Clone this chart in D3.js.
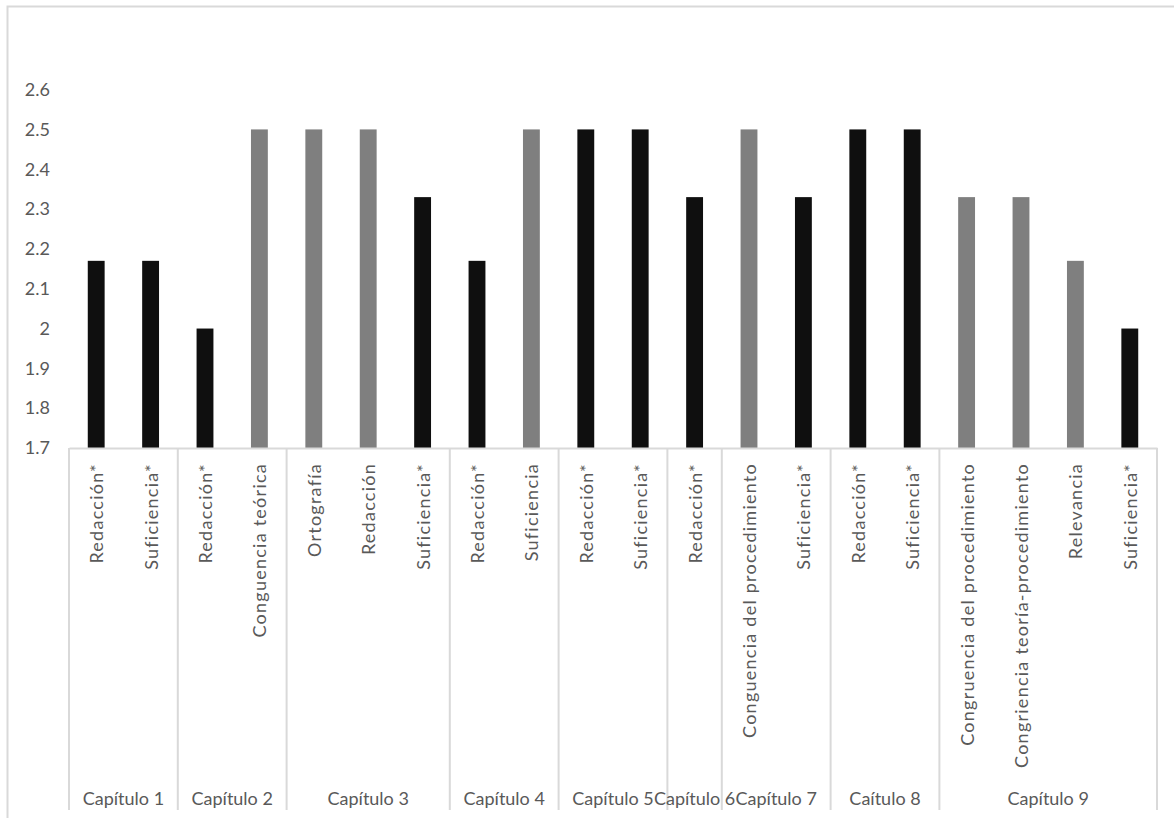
<!DOCTYPE html>
<html>
<head>
<meta charset="utf-8">
<script src="https://cdn.jsdelivr.net/npm/d3@7"></script>
<style>
  html, body { margin: 0; padding: 0; background: #fff; }
  svg { display: block; }
  text { font-family: Lato, "Open Sans", sans-serif; fill: #595959; }
</style>
</head>
<body>
<svg id="chart" width="1174" height="818"></svg>
<script>
// ---- Data ----
const categories = [
  "Redacción*", "Suficiencia*",
  "Redacción*", "Conguencia teórica",
  "Ortografía", "Redacción", "Suficiencia*",
  "Redacción*", "Suficiencia",
  "Redacción*", "Suficiencia*",
  "Redacción*",
  "Conguencia del procedimiento", "Suficiencia*",
  "Redacción*", "Suficiencia*",
  "Congruencia del procedimiento", "Congriencia teoría-procedimiento", "Relevancia", "Suficiencia*"
];
const values = [
  2.17, 2.17,
  2.00, 2.50,
  2.50, 2.50, 2.33,
  2.17, 2.50,
  2.50, 2.50,
  2.33,
  2.50, 2.33,
  2.50, 2.50,
  2.33, 2.33, 2.17, 2.00
];
// 1 = black bar (marked *), 0 = gray bar
const marked = [
  1, 1,
  1, 0,
  0, 0, 1,
  1, 0,
  1, 1,
  1,
  0, 1,
  1, 1,
  0, 0, 0, 1
];
const groups = ["Capítulo 1", "Capítulo 2", "Capítulo 3", "Capítulo 4", "Capítulo 5", "Capítulo 6", "Capítulo 7", "Caítulo 8", "Capítulo 9"];
const groupSizes = [2, 2, 3, 2, 2, 1, 2, 2, 4];
const yTicks = [1.7, 1.8, 1.9, 2.0, 2.1, 2.2, 2.3, 2.4, 2.5, 2.6];

// ---- Layout ----
const svg = d3.select("#chart");
const plotLeft = 69, plotRight = 1157, plotTop = 89.6, plotBottom = 448;
const sepBottom = 810;

// outer chart frame
svg.append("rect")
  .attr("x", 7.5).attr("y", 6.5)
  .attr("width", 1200).attr("height", 900)
  .attr("fill", "none").attr("stroke", "#d9d9d9").attr("stroke-width", 2);

const idx = d3.range(categories.length);
const x = d3.scaleBand().domain(idx).range([plotLeft, plotRight]).paddingInner(0.69).paddingOuter(0.345);
const xb = d3.scaleBand().domain(idx).range([plotLeft, plotRight]).padding(0);
const y = d3.scaleLinear().domain([1.7, 2.6]).range([plotBottom, plotTop]);

// Y axis (labels only)
const yAxis = d3.axisLeft(y).tickValues(yTicks).tickSize(0).tickPadding(0)
  .tickFormat(d => d3.format("")(+d.toFixed(1)));
const gy = svg.append("g").attr("transform", `translate(${50},0)`).call(yAxis);
gy.select(".domain").remove();
gy.selectAll("text").style("font-size", "18px").attr("fill", "#595959").style("font-family", "Lato, sans-serif");

// Bars
svg.append("g").selectAll("rect")
  .data(idx)
  .join("rect")
  .attr("x", i => x(i))
  .attr("width", x.bandwidth())
  .attr("y", i => y(values[i]))
  .attr("height", i => y(1.7) - y(values[i]))
  .attr("fill", i => marked[i] ? "#0f0f0f" : "#7f7f7f");

// Category axis line
const xAxis = d3.axisBottom(xb).tickSize(0).tickFormat("");
const gx = svg.append("g").attr("transform", `translate(0,${plotBottom})`).call(xAxis);
gx.select(".domain").attr("stroke", "#d9d9d9").attr("stroke-width", 2);

// Rotated category labels
svg.append("g").selectAll("text")
  .data(idx)
  .join("text")
  .attr("transform", i => `translate(${xb(i) + xb.bandwidth() / 2},463) rotate(-90)`)
  .attr("text-anchor", "end")
  .attr("dominant-baseline", "central")
  .style("font-size", "18px")
  .style("letter-spacing", "1.25px")
  .text(i => categories[i]);

// Group separators and labels
const starts = [0];
groupSizes.forEach((s, k) => starts.push(starts[k] + s));
const sepG = svg.append("g");
starts.forEach(s => {
  const xx = s < categories.length ? xb(s) : plotRight;
  sepG.append("line")
    .attr("x1", xx).attr("x2", xx)
    .attr("y1", plotBottom).attr("y2", sepBottom)
    .attr("stroke", "#d9d9d9").attr("stroke-width", 2);
});
svg.append("g").selectAll("text")
  .data(groups)
  .join("text")
  .attr("x", (g, k) => {
    const a = xb(starts[k]);
    const b = starts[k + 1] < categories.length ? xb(starts[k + 1]) : plotRight;
    return (a + b) / 2;
  })
  .attr("y", 798)
  .attr("text-anchor", "middle")
  .attr("dominant-baseline", "central")
  .style("font-size", "18px")
  .text(d => d);
</script>
</body>
</html>
